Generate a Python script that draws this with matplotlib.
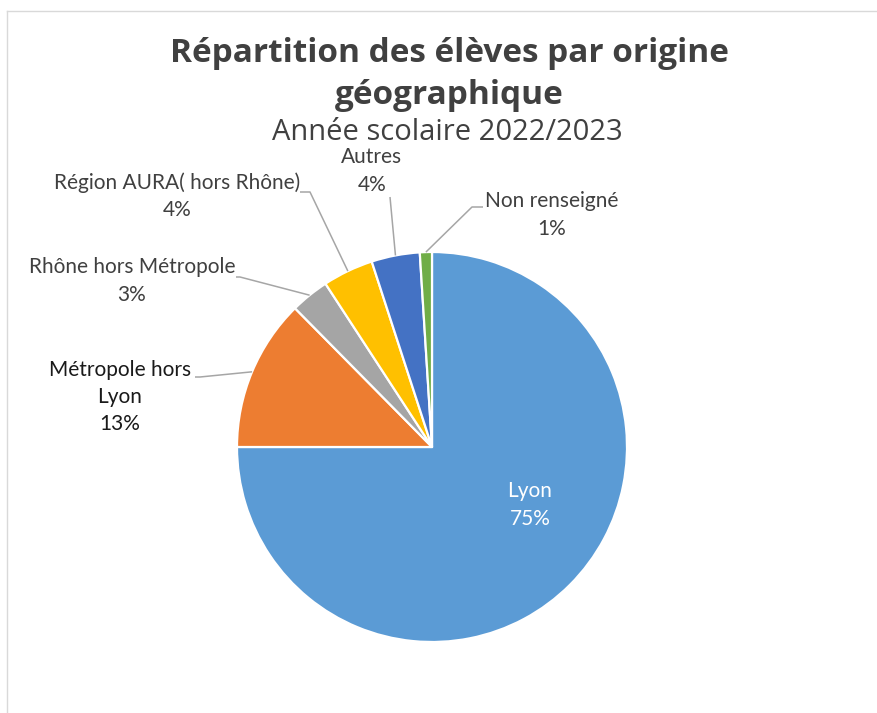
import numpy as np
import matplotlib.pyplot as plt
from matplotlib.lines import Line2D

W, H = 878, 713

# data
categories = ["Lyon", "Métropole hors\nLyon", "Rhône hors Métropole",
              "Région AURA( hors Rhône)", "Autres", "Non renseigné"]
shares = [75.0, 12.6, 3.2, 4.2, 4.0, 1.0]
colors = ["#5B9BD5", "#ED7D31", "#A5A5A5", "#FFC000", "#4472C4", "#70AD47"]

# layout, in pixels from the top-left corner
cx, cy, R = 432, 447, 195
label_pos = [(530, 505), (120, 397), (132, 281), (177, 196), (372, 171), (552, 215)]
elbows = [None, [(200, 377), (195, 377)], [(240, 277), (236, 277)],
          [(310, 192), (300, 192)], [(390, 197)], [(472, 207), (483, 207)]]
text_colors = ["white", "#1a1a1a", "#404040", "#404040", "#404040", "#404040"]


def px(x, y):
    return x, H - y


plt.rcParams['font.family'] = ['Lato', 'DejaVu Sans']
fig = plt.figure(figsize=(W / 100, H / 100), dpi=100)
ax = fig.add_axes([0, 0, 1, 1])

ax.pie(shares, colors=colors, startangle=90, counterclock=False,
       center=px(cx, cy), radius=R,
       wedgeprops=dict(edgecolor='white', linewidth=1.6))
ax.set_xlim(0, W)
ax.set_ylim(0, H)
ax.set_aspect('auto')
ax.axis('off')

start = 90.0
for i, (cat, v) in enumerate(zip(categories, shares)):
    mid = np.radians(start - v * 3.6 / 2)
    start -= v * 3.6
    txt = f"{cat}\n{round(v):.0f}%"
    ax.text(*px(*label_pos[i]), txt, ha='center', va='center', fontsize=15,
            color=text_colors[i], linespacing=1.45)
    if elbows[i] is None:
        continue
    x0 = cx + R * np.cos(mid)
    y0 = cy - R * np.sin(mid)
    pts = [(x0, y0)] + elbows[i]
    xs = [p[0] for p in pts]
    ys = [H - p[1] for p in pts]
    ax.plot(xs, ys, color='#A6A6A6', lw=1.1, solid_capstyle='butt')

# titles
title_font = ['Open Sans', 'DejaVu Sans']
ax.text(*px(449, 53), "Répartition des élèves par origine", ha='center', va='center',
        fontsize=24, fontweight='bold', color='#404040', family=title_font)
ax.text(*px(449, 95), "géographique", ha='center', va='center',
        fontsize=24, fontweight='bold', color='#404040', family=title_font)
ax.text(*px(447, 133), "Année scolaire 2022/2023", ha='center', va='center',
        fontsize=21, color='#404040', family=title_font)

# chart frame (only left and top edges visible)
fig.add_artist(Line2D([7.5 / W, 7.5 / W], [0, 1 - 10.5 / H], color='#D9D9D9', lw=1))
fig.add_artist(Line2D([7.5 / W, 1], [1 - 10.5 / H, 1 - 10.5 / H], color='#D9D9D9', lw=1))

fig.savefig('out.png', dpi=100)
